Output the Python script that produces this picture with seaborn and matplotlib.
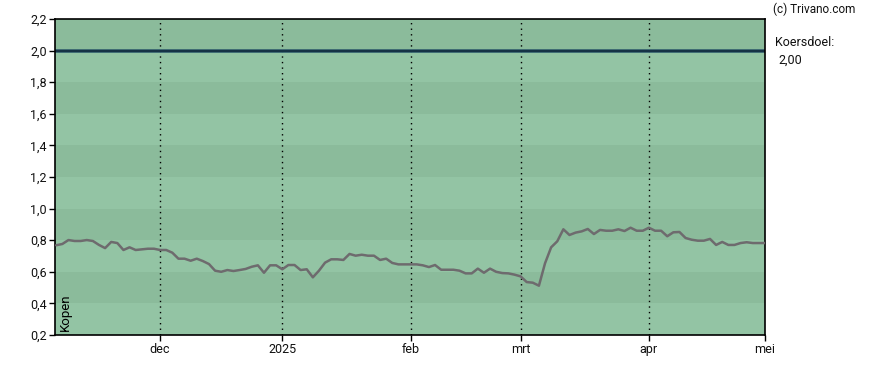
import matplotlib
matplotlib.use("Agg")
import matplotlib.pyplot as plt
import seaborn as sns
import pandas as pd
import numpy as np

# ---- data ----
prices = [
    0.768, 0.776, 0.801, 0.795, 0.795, 0.801, 0.795, 0.770, 0.750, 0.789,
    0.782, 0.738, 0.755, 0.738, 0.742, 0.746, 0.746, 0.738, 0.738, 0.721,
    0.683, 0.683, 0.670, 0.683, 0.668, 0.649, 0.607, 0.600, 0.611,
    0.605, 0.611, 0.618, 0.632, 0.641, 0.594, 0.641, 0.641, 0.616, 0.643,
    0.643, 0.611, 0.616, 0.565, 0.607, 0.658, 0.679, 0.679, 0.675, 0.713,
    0.702, 0.708, 0.702, 0.702, 0.675, 0.683, 0.656, 0.647, 0.647,
    0.647, 0.647, 0.641, 0.630, 0.643, 0.613, 0.613, 0.613, 0.607, 0.590,
    0.590, 0.620, 0.594, 0.620, 0.600, 0.592, 0.590, 0.582, 0.571, 0.535,
    0.531, 0.512, 0.654, 0.755, 0.793, 0.869, 0.833, 0.848,
    0.856, 0.871, 0.839, 0.865, 0.860, 0.860, 0.869, 0.858, 0.879, 0.860,
    0.860, 0.879, 0.860, 0.860, 0.825, 0.850, 0.852, 0.814, 0.803, 0.797,
    0.797, 0.808, 0.770, 0.789, 0.770, 0.770, 0.782, 0.787, 0.782, 0.782,
    0.782,
]
month_labels = ["dec", "2025", "feb", "mrt", "apr", "mei"]
month_start_idx = [17, 37, 58, 76, 97, 116]   # sample index where each month starts
target = 2.00
advice = "Kopen"
y_ticks = [0.2, 0.4, 0.6, 0.8, 1.0, 1.2, 1.4, 1.6, 1.8, 2.0, 2.2]

df = pd.DataFrame({"i": np.arange(len(prices)), "price": prices})

# ---- style ----
sns.set_style("white")
plt.rcParams["font.family"] = ["Roboto", "DejaVu Sans"]

fig = plt.figure(figsize=(8.88, 3.70), dpi=100)
ax = fig.add_axes([55 / 888, 1 - 335 / 370, (765 - 55) / 888, (335 - 19) / 370])

dark = "#8bbb9b"
light = "#93c4a4"
for k in range(len(y_ticks) - 1):
    ax.axhspan(y_ticks[k], y_ticks[k + 1], color=(light if k % 2 == 0 else dark),
               lw=0, zorder=0)

# vertical dotted month lines
for p in month_start_idx[:-1]:
    ax.axvline(p, color="black", lw=1.0, ls=(0, (1, 3)), zorder=1)

# target line
ax.axhline(target, color="#2e5a6a", lw=2.6, zorder=2)
ax.axhline(target, color="#163246", lw=1.4, zorder=2)

sns.lineplot(data=df, x="i", y="price", ax=ax, color="#6e6b6e", lw=1.8, zorder=3)

ax.set_xlim(-0.2, 116.0)
ax.set_ylim(0.2, 2.2)
ax.set_yticks(y_ticks)
ax.set_yticklabels([f"{v:.1f}".replace(".", ",") for v in y_ticks], fontsize=9)
ax.set_xticks(month_start_idx)
ax.set_xticklabels(month_labels, fontsize=9)
ax.tick_params(axis="both", direction="out", length=4, width=1, color="black",
               pad=2, labelcolor="#111111")
ax.tick_params(axis="y", left=True)
ax.tick_params(axis="x", bottom=True)
ax.set_xlabel("")
ax.set_ylabel("")
for s in ax.spines.values():
    s.set_color("black")
    s.set_linewidth(1.2)
    s.set_visible(True)

ax.text(0.005, 0.012, advice, transform=ax.transAxes, rotation=90, fontsize=9.5,
        ha="left", va="bottom", color="black")

fig.text(773 / 888, 1 - 9 / 370, "(c) Trivano.com", fontsize=8.5, ha="left",
         va="center", color="#111111")
fig.text(775 / 888, 1 - 43 / 370, "Koersdoel:", fontsize=9, ha="left",
         va="center", color="#111111")
fig.text(778 / 888, 1 - 60 / 370, f"{target:.2f}".replace(".", ","), fontsize=9,
         ha="left", va="center", color="#111111")

fig.savefig("out.png", dpi=100)
